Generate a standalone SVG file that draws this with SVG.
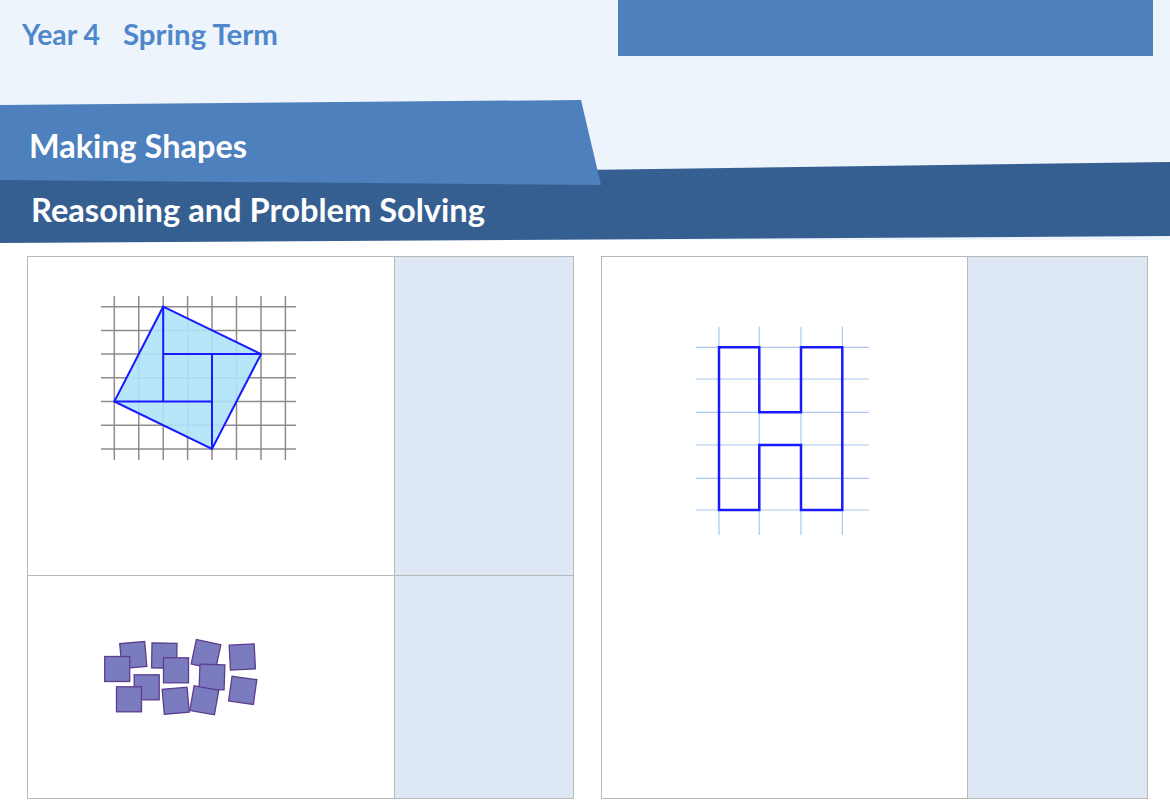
<svg xmlns="http://www.w3.org/2000/svg" width="1170" height="810" viewBox="0 0 1170 810">
<defs>
<style>
.hdr{font-family:Lato,"Open Sans","Liberation Sans",sans-serif;font-weight:bold}
.panel{fill:#ffffff;stroke:#b8b8b8;stroke-width:1}
.side{fill:#dde8f4;stroke:#b8b8b8;stroke-width:1}
.grid{stroke:#8c8c8c;stroke-width:1.5}
.hgrid{stroke:#a9c9ee;stroke-width:1.2}
.sq{fill:#7b7bc0;stroke:#5c3d8c;stroke-width:1.3}
.blue{stroke:#1a1aff;stroke-width:2;fill:none}
</style>
</defs>
<rect x="0" y="0" width="1170" height="810" fill="#ffffff"/>
<g id="header">
<rect x="0" y="0" width="1170" height="240" fill="#eef4fc"/>
<rect x="618" y="0" width="535" height="56" fill="#4d80bc"/>
<polygon points="0,178 1170,162 1170,236 0,243" fill="#365f91"/>
<polygon points="0,105 581,100 601,185 0,180" fill="#4d80bc"/>
<text class="hdr" x="22" y="45" font-size="28" fill="#4f87cb" textLength="78" lengthAdjust="spacingAndGlyphs">Year 4</text>
<text class="hdr" x="123" y="45" font-size="28" fill="#4f87cb" textLength="155" lengthAdjust="spacingAndGlyphs">Spring Term</text>
<text class="hdr" x="29" y="158" font-size="32" fill="#ffffff" textLength="218" lengthAdjust="spacingAndGlyphs">Making Shapes</text>
<text class="hdr" x="31" y="222" font-size="32.5" fill="#ffffff" textLength="454" lengthAdjust="spacingAndGlyphs">Reasoning and Problem Solving</text>
</g>
<g id="panel-left">
<rect class="panel" x="27.5" y="256.5" width="546" height="542"/>
<rect class="side" x="394.5" y="256.5" width="179" height="319"/>
<rect class="side" x="394.5" y="575.5" width="179" height="223"/>
<line x1="27.5" y1="575.5" x2="394.5" y2="575.5" stroke="#b8b8b8"/>
</g>
<g id="panel-right">
<rect class="panel" x="601.5" y="256.5" width="546" height="542"/>
<rect class="side" x="967.5" y="256.5" width="180" height="542"/>
</g>
<g id="grid-square">
<g class="grid">
<line x1="114.3" y1="296" x2="114.3" y2="460"/>
<line x1="138.8" y1="296" x2="138.8" y2="460"/>
<line x1="163.2" y1="296" x2="163.2" y2="460"/>
<line x1="187.6" y1="296" x2="187.6" y2="460"/>
<line x1="212" y1="296" x2="212" y2="460"/>
<line x1="236.5" y1="296" x2="236.5" y2="460"/>
<line x1="261" y1="296" x2="261" y2="460"/>
<line x1="285.4" y1="296" x2="285.4" y2="460"/>
<line x1="101" y1="306.7" x2="296" y2="306.7"/>
<line x1="101" y1="330.4" x2="296" y2="330.4"/>
<line x1="101" y1="354.1" x2="296" y2="354.1"/>
<line x1="101" y1="377.8" x2="296" y2="377.8"/>
<line x1="101" y1="401.5" x2="296" y2="401.5"/>
<line x1="101" y1="425.2" x2="296" y2="425.2"/>
<line x1="101" y1="448.9" x2="296" y2="448.9"/>
</g>
<polygon points="163.2,306.7 261,354.1 212,448.9 114.3,401.5" fill="#aee3f6" fill-opacity="0.9" stroke="#1a1aff" stroke-width="2"/>
<path class="blue" d="M163.2,306.7 V401.5 M163.2,354.1 H261 M212,354.1 V448.9 M114.3,401.5 H212"/>
</g>
<g id="squares">
<rect class="sq" x="-12.5" y="-12.5" width="25" height="25" transform="translate(133.3,655) rotate(-5)"/>
<rect class="sq" x="-12.5" y="-12.5" width="25" height="25" transform="translate(117.2,669) rotate(0)"/>
<rect class="sq" x="-12.5" y="-12.5" width="25" height="25" transform="translate(164.3,655.7) rotate(1)"/>
<rect class="sq" x="-12.5" y="-12.5" width="25" height="25" transform="translate(176,670.3) rotate(0)"/>
<rect class="sq" x="-12.5" y="-12.5" width="25" height="25" transform="translate(206,654.3) rotate(12)"/>
<rect class="sq" x="-12.5" y="-12.5" width="25" height="25" transform="translate(242.3,657) rotate(-3)"/>
<rect class="sq" x="-12.5" y="-12.5" width="25" height="25" transform="translate(212,677) rotate(2)"/>
<rect class="sq" x="-12.5" y="-12.5" width="25" height="25" transform="translate(146.7,687.3) rotate(0)"/>
<rect class="sq" x="-12.5" y="-12.5" width="25" height="25" transform="translate(129,699.3) rotate(0)"/>
<rect class="sq" x="-12.5" y="-12.5" width="25" height="25" transform="translate(175.7,700.7) rotate(-5)"/>
<rect class="sq" x="-12.5" y="-12.5" width="25" height="25" transform="translate(204.3,700.3) rotate(10)"/>
<rect class="sq" x="-12.5" y="-12.5" width="25" height="25" transform="translate(242.7,690.3) rotate(8)"/>
</g>
<g id="h-shape">
<g class="hgrid">
<line x1="719" y1="326.7" x2="719" y2="535"/>
<line x1="759.3" y1="326.7" x2="759.3" y2="535"/>
<line x1="801" y1="326.7" x2="801" y2="535"/>
<line x1="842.3" y1="326.7" x2="842.3" y2="535"/>
<line x1="696" y1="347.3" x2="869" y2="347.3"/>
<line x1="696" y1="379" x2="869" y2="379"/>
<line x1="696" y1="412.3" x2="869" y2="412.3"/>
<line x1="696" y1="445" x2="869" y2="445"/>
<line x1="696" y1="478.3" x2="869" y2="478.3"/>
<line x1="696" y1="510" x2="869" y2="510"/>
</g>
<path d="M719,347.3 H759.3 V412.3 H801 V347.3 H842.3 V510 H801 V445 H759.3 V510 H719 Z" fill="none" stroke="#1a1aff" stroke-width="2.5"/>
</g>
</svg>
